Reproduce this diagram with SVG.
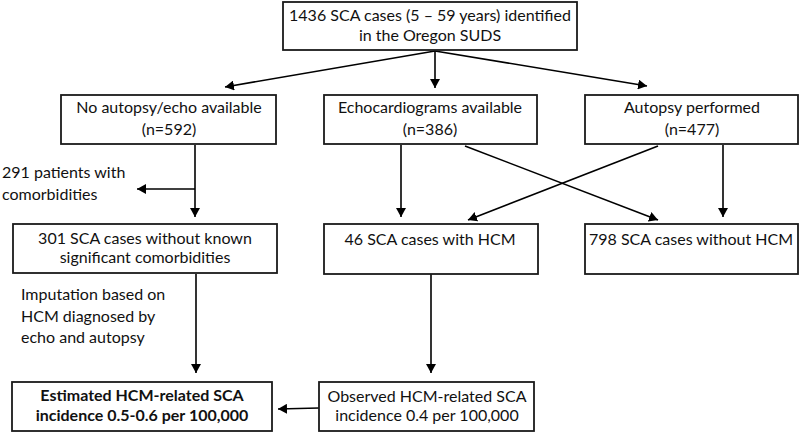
<svg xmlns="http://www.w3.org/2000/svg" width="800" height="433" viewBox="0 0 800 433">
<defs>
<marker id="ah" markerUnits="userSpaceOnUse" markerWidth="10" markerHeight="10" refX="9" refY="5" orient="auto">
<path d="M0,0 L9,5 L0,10 z" fill="#000"/>
</marker>
<style>
.box{fill:#fff;stroke:#1a1a1a;stroke-width:1.8}
.t{font-family:Lato,"Open Sans","Liberation Sans",sans-serif;font-size:16px;fill:#111}
.c{text-anchor:middle}
.b{font-weight:bold}
.ln{stroke:#000;stroke-width:1.6;fill:none;marker-end:url(#ah)}
</style>
</defs>
<rect width="800" height="433" fill="#fff"/>
<g id="connectors">
<path class="ln" d="M435,51 L225,87"/>
<path class="ln" d="M435,51 L435,88"/>
<path class="ln" d="M435,51 L647,86"/>
<path class="ln" d="M195,145 L195,217"/>
<path class="ln" d="M195,189 L137,189"/>
<path class="ln" d="M401,145 L401,217"/>
<path class="ln" d="M465,146 L658,220"/>
<path class="ln" d="M658,146 L468,220"/>
<path class="ln" d="M723,145 L723,217"/>
<path class="ln" d="M196,274 L196,373"/>
<path class="ln" d="M431,274 L431,373"/>
<path class="ln" d="M319,408 L278,409"/>
</g>
<g id="n-total">
<rect class="box" x="283" y="2" width="294" height="48"/>
<text class="t c" x="430" y="21">1436 SCA cases (5 – 59 years) identified</text>
<text class="t c" x="430" y="41">in the Oregon SUDS</text>
</g>
<g id="n-none">
<rect class="box" x="61" y="95" width="215" height="49"/>
<text class="t c" x="169" y="113">No autopsy/echo available</text>
<text class="t c" x="169" y="135">(n=592)</text>
</g>
<g id="n-echo">
<rect class="box" x="324" y="95" width="213" height="49"/>
<text class="t c" x="430" y="113">Echocardiograms available</text>
<text class="t c" x="430" y="135">(n=386)</text>
</g>
<g id="n-autopsy">
<rect class="box" x="585" y="95" width="213" height="49"/>
<text class="t c" x="692" y="113">Autopsy performed</text>
<text class="t c" x="692" y="135">(n=477)</text>
</g>
<g id="n-comorb">
<text class="t" x="2" y="178">291 patients with</text>
<text class="t" x="2" y="200">comorbidities</text>
</g>
<g id="n-301">
<rect class="box" x="13" y="224" width="264" height="49"/>
<text class="t c" x="145" y="244">301 SCA cases without known</text>
<text class="t c" x="145" y="263">significant comorbidities</text>
</g>
<g id="n-hcm">
<rect class="box" x="324" y="224" width="214" height="50"/>
<text class="t c" x="430" y="245">46 SCA cases with HCM</text>
</g>
<g id="n-nohcm">
<rect class="box" x="585" y="224" width="213" height="50"/>
<text class="t c" x="691" y="245">798 SCA cases without HCM</text>
</g>
<g id="n-imput">
<text class="t" x="21" y="300">Imputation based on</text>
<text class="t" x="21" y="322">HCM diagnosed by</text>
<text class="t" x="21" y="343">echo and autopsy</text>
</g>
<g id="n-estimated">
<rect class="box" x="12" y="382" width="260" height="49"/>
<text class="t c b" x="142" y="401">Estimated HCM-related SCA</text>
<text class="t c b" x="142" y="421">incidence 0.5-0.6 per 100,000</text>
</g>
<g id="n-observed">
<rect class="box" x="319" y="382" width="215" height="49"/>
<text class="t c" x="427" y="402">Observed HCM-related SCA</text>
<text class="t c" x="427" y="421">incidence 0.4 per 100,000</text>
</g>
</svg>
